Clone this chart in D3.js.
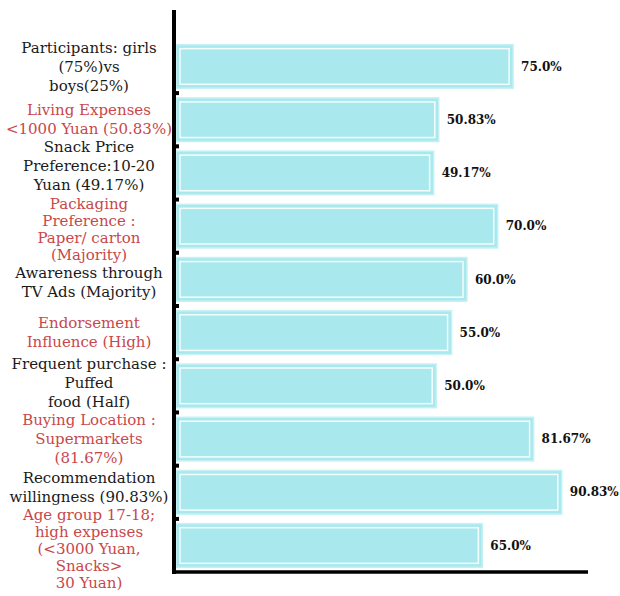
<!DOCTYPE html>
<html>
<head>
<meta charset="utf-8">
<script src="https://d3js.org/d3.v7.min.js"></script>
<style>
  body { margin: 0; background: #fff; }
  text { font-family: "DejaVu Serif", serif; }
</style>
</head>
<body>
<div id="chart"></div>
<script>
// category labels (split into lines as in the picture)
var labels = [
  ["Participants: girls", "(75%)vs", "boys(25%)"],
  ["Living Expenses", "<1000 Yuan (50.83%)"],
  ["Snack Price", "Preference:10-20", "Yuan (49.17%)"],
  ["Packaging", "Preference :", "Paper/ carton", "(Majority)"],
  ["Awareness through", "TV Ads (Majority)"],
  ["Endorsement", "Influence (High)"],
  ["Frequent purchase :", "Puffed", "food (Half)"],
  ["Buying Location :", "Supermarkets", "(81.67%)"],
  ["Recommendation", "willingness (90.83%)"],
  ["Age group 17-18;", "high expenses", "(<3000 Yuan,", "Snacks>", "30 Yuan)"]
];
var values = [75.0, 50.83, 49.17, 70.0, 60.0, 55.0, 50.0, 81.67, 90.83, 65.0];
var valueText = ["75.0%", "50.83%", "49.17%", "70.0%", "60.0%", "55.0%", "50.0%", "81.67%", "90.83%", "65.0%"];
var labelColors = ["#1a1a1a", "#c9474a"];

var W = 620, H = 596;
var axisX = 174, axisBottom = 572;

var svg = d3.select("#chart").append("svg")
    .attr("width", W)
    .attr("height", H);

var idx = d3.range(values.length);

// x scale: bar lengths as drawn in the picture
var x = d3.scaleLinear()
    .domain([-34.6, 100])
    .range([176, 590]);

var y = d3.scaleBand()
    .domain(idx)
    .range([42, 570])
    .paddingInner(0.18)
    .paddingOuter(0.05);

// bars
var bars = svg.selectAll(".bar")
    .data(idx)
    .enter()
    .append("g")
    .attr("class", "bar");

bars.append("rect")
    .attr("x", x(x.domain()[0]))
    .attr("y", function(d) { return y(d); })
    .attr("width", function(d) { return x(values[d]) - x(x.domain()[0]); })
    .attr("height", y.bandwidth())
    .attr("fill", "#a9e9ee")
    .attr("stroke", "#c6f1f4")
    .attr("stroke-width", 1.5);

bars.append("rect")
    .attr("x", x(x.domain()[0]) + 4)
    .attr("y", function(d) { return y(d) + 4; })
    .attr("width", function(d) { return x(values[d]) - x(x.domain()[0]) - 8; })
    .attr("height", y.bandwidth() - 8)
    .attr("fill", "none")
    .attr("stroke", "#f4fdfe")
    .attr("stroke-width", 1.5);

// value labels
svg.selectAll(".val")
    .data(idx)
    .enter()
    .append("text")
    .attr("class", "val")
    .attr("x", function(d) { return x(values[d]) + 8; })
    .attr("y", function(d) { return y(d) + y.bandwidth() / 2; })
    .attr("dy", "0.35em")
    .attr("font-size", 12)
    .attr("font-weight", "bold")
    .attr("fill", "#111")
    .text(function(d) { return valueText[d]; });

// category labels, centered multi-line
// long labels get tighter lines; a few nudged like in the picture
var nudge = [0, 0, -7, 3, 3, 0, -3, 0, -5, 3];
function lineH(n) { return n > 3 ? 17 : 19; }

var lab = svg.selectAll(".lab")
    .data(idx)
    .enter()
    .append("text")
    .attr("class", "lab")
    .attr("text-anchor", "middle")
    .attr("font-size", 15)
    .attr("fill", function(d) { return labelColors[d % 2]; })
    .attr("y", function(d) {
        var n = labels[d].length;
        return y(d) + y.bandwidth() / 2 - (n - 1) * lineH(n) / 2 + nudge[d];
    });

lab.selectAll("tspan")
    .data(function(d) { return labels[d].map(function(t) { return {t: t, n: labels[d].length}; }); })
    .enter()
    .append("tspan")
    .attr("x", 89)
    .attr("dy", function(d, i) { return i === 0 ? "0.35em" : lineH(d.n); })
    .text(function(d) { return d.t; });

// small ticks between bars
svg.selectAll(".tk")
    .data(idx.slice(1))
    .enter()
    .append("rect")
    .attr("x", axisX)
    .attr("y", function(d) { return y(d) - y.step() * y.paddingInner() / 2 - 2; })
    .attr("width", 5)
    .attr("height", 4)
    .attr("fill", "#000");

// axes lines
svg.append("line")
    .attr("x1", axisX).attr("x2", axisX)
    .attr("y1", 10).attr("y2", axisBottom + 2)
    .attr("stroke", "#000")
    .attr("stroke-width", 4);

svg.append("line")
    .attr("x1", axisX - 2).attr("x2", 588)
    .attr("y1", axisBottom).attr("y2", axisBottom)
    .attr("stroke", "#000")
    .attr("stroke-width", 3.5);
</script>
</body>
</html>
